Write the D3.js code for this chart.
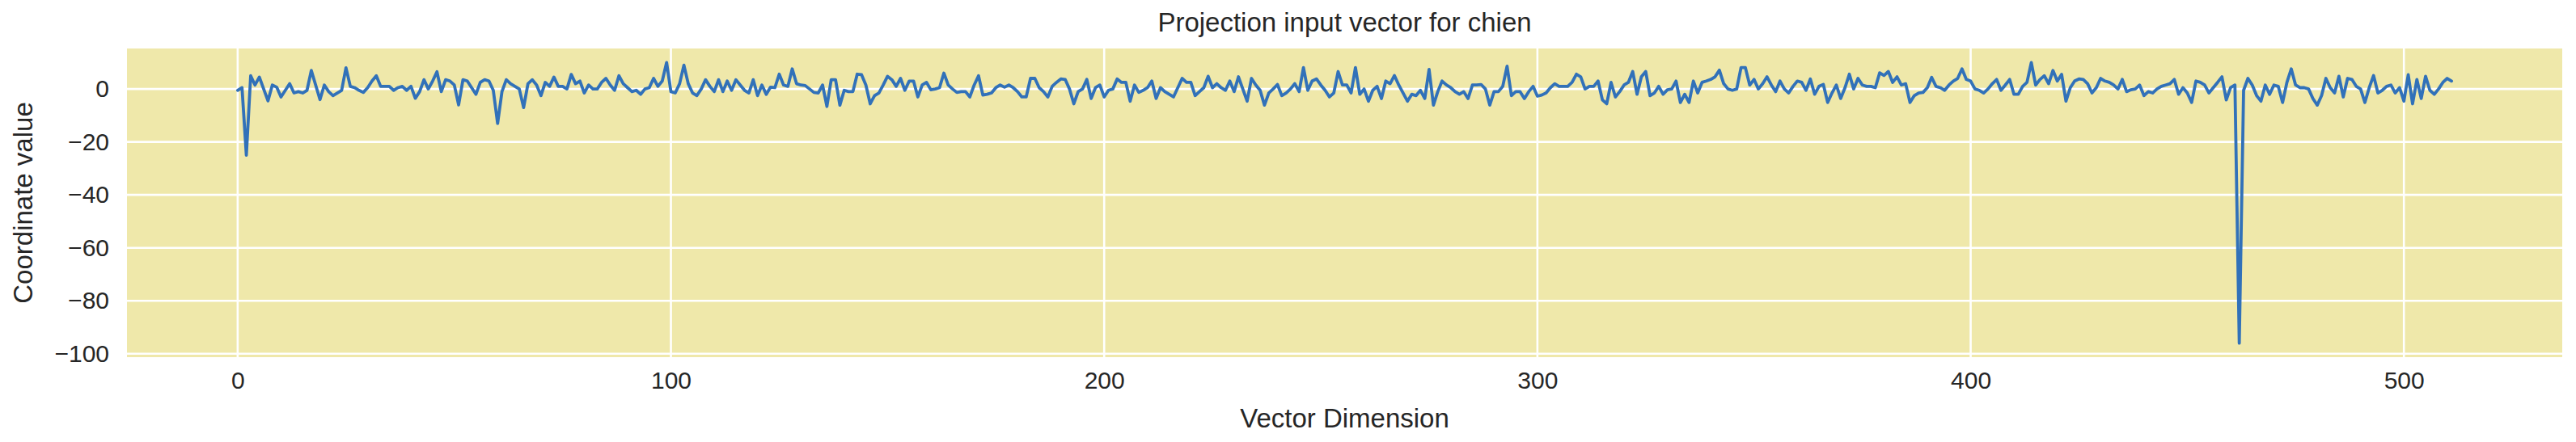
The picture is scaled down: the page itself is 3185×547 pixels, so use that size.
<!DOCTYPE html>
<html>
<head>
<meta charset="utf-8">
<script src="https://cdn.jsdelivr.net/npm/d3@7"></script>
<style>
  html, body { margin: 0; padding: 0; background: #ffffff; }
  svg { display: block; }
  text { font-family: "Liberation Sans", Arial, "DejaVu Sans", sans-serif; fill: #262626; }
</style>
</head>
<body>
<svg id="chart" width="3185" height="547"></svg>
<script>
const titleText = "Projection input vector for chien";
const xLabelText = "Vector Dimension";
const yLabelText = "Coordinate value";
const xTickValues = [0, 100, 200, 300, 400, 500];
const yTickValues = [0, -20, -40, -60, -80, -100];

// coordinate values, dimension 0..511
const values = [
  // 0-60
  -0.5, 0.5, -25, 5, 1.5, 4.5, 0, -4.5, 1.5, 0.7, -3, -0.5, 2, -1.5, -1, -1.5, -0.5, 7, 1.5, -4,
  1.5, -1, -2.5, -1.5, -0.5, 8, 1, 0.5, -0.5, -1.3, 0.5, 3, 5, 1, 1, 1, -0.5, 0.5, 1, -0.5,
  1, -3.5, -1, 3.5, 0, 3, 6.5, -1, 3.5, 3, 1.5, -6, 3.5, 3, 0.5, -2, 2.5, 3.5, 3, -0.5, -13,
  // 61-115
  -1, 3.5, 2, 1, 0, -7, 2, 3.5, 1.5, -2.5, 2.5, 1, 4.5, 1, 1, 0, 5.5, 2, 3, -1.5,
  1.5, 0, 0, 2.5, 4, 1.5, -0.5, 5, 2, 0.5, -1, -0.5, -2, 0, 0.5, 4, 1, 3, 10, -1,
  -1.5, 2, 9, 2, -1.5, -2.5, 0, 3.5, 1, -1, 3.5, -1, 3, -0.5, 3.5,
  // 116-173
  1.5, -0.5, -1.5, 3.5, -2.5, 1.5, -2, 0.7, 0.5, 5.6, 1.5, 1, 7.6, 2, 1.5, 1.3, 0, -1.3, -1.5, 1.5,
  -6.6, 3.5, 3.5, -6.1, -0.5, -1, -1, 5.6, 5.4, 1.5, -5.6, -2.5, -1.5, 1.5, 4.8, 3.5, 1, 4, -0.5, 3,
  3, -3, 1.5, 2.5, -0.3, 0, 0.5, 6, 1.5, 0, -1.3, -1, -1, -3, 1.5, 5, -2.3, -2,
  // 174-232
  -1.5, 0.5, 1.5, 0.7, 1.5, 0.5, -1, -3, -3, 4, 4, 0.5, -1, -3, 1, 2.5, 3.8, 3.6, 0, -5.6,
  -1, 0, 3.6, -3.6, 0.5, 1.5, -3, -0.5, 0, 3.8, 2.5, 2.5, -4.6, 1.5, -1.3, -0.5, 0.5, 3, -3.6, 0.5,
  -1, -2, -3, 0.5, 4, 2.5, 2.5, -2.5, -1, 0.5, 4.8, 0.5, 2, 0.5, -0.5, 3, -1, 4.6, 0,
  // 233-293
  -4.6, 4, 1.5, -0.5, -6.1, -1.5, 0, 1.7, -2.5, -1.5, 0, 2, -1, 8.1, -0.5, 3, 3.8, 1.5, -0.5, -3,
  -1.5, 6.6, 1.5, 1.5, -1.5, 8.1, -2, 0, -4.6, -0.5, 1, -3.6, 3, 2, 5.1, 1.5, -1.5, -4.6, -2, -2.5,
  -0.5, -3.6, 7.4, -6.1, -1, 3, 1.5, 0.5, -1, -2, -1, -3.6, 1.5, 1.5, 1.7, 0, -6.1, -1, -1, 1, 8.6,
  // 294-349
  -2.5, -1, -1, -3.6, -1, 1, -2.7, -2.3, -1.5, 0.5, 2, 1, 1, 1, 2.5, 5.6, 4.6, 0, 1, 1,
  3, -4.1, -5.6, 2.5, -3, -1, 1.5, 2.5, 6.6, -2, 4.6, 6.6, -2.5, -1.5, 1, -2, -0.3, 0, 3, -5.1,
  -2, -5.1, 3, -1.5, 2.5, 3, 3.6, 4.6, 7.1, 2, 0, -0.5, 0, 8.1, 8.1, 1.5,
  // 350-410
  3.6, 0, 2, 4.6, 1.5, -1, 3, 0, -1.5, 1, 3, 2.5, -0.5, 3.8, -2, 1, 1.7, -5.1, -1.5, 1.5,
  -3.6, 0.5, 5.6, 0, 4, 1.5, 1, 1, 0.5, 6.1, 5.1, 6.6, 2.5, 4.6, 1.5, 2, -5.1, -2.5, -1.5, -1.3,
  0.5, 4.4, 1, 0.5, -0.5, 1.5, 3, 4, 7.6, 3.6, 3, 0, -0.5, -1.5, 0, 2, 3.6, -0.5, 1.5, 3.6, -2,
  // 411-464
  -2, 1, 2.5, 10, 1.5, 3.6, 5, 2, 7, 3, 5.5, -4.6, 0.5, 3, 3.8, 3.6, 2, -1.5, 0.5, 4,
  3, 2.5, 1.5, 0, 3.6, -1, -0.3, 0, 1.5, -2.5, -1, -1.5, 0, 1, 1.5, 2, 3.6, -2, 0.5, -1.5,
  -5.1, 3, 2.5, 1.5, -1.5, 0.5, 2.5, 4.6, -4.1, 0.5, 1.5, -96, -0.5, 4,
  // 465-511
  1.5, -2.5, -4.6, 1.5, -2, 1.5, 1, -5.1, 2.5, 7.6, 1.5, 0.5, 0.5, 0, -3.6, -6.1, -2.5, 4, 0.5, -1.5,
  4.8, -3, 4, 3.6, 1, 0, -5.1, 0.5, 5.1, -1.5, -0.5, 1, 1.5, -1.5, 0.5, -4.6, 5.4, -5.6, 3.6, -3.6,
  4.8, -0.5, -2, 0, 2.5, 4, 3
];

const W = 3185, H = 547;
const margin = { left: 157, right: 17, top: 60, bottom: 105 };
const iw = W - margin.left - margin.right;
const ih = H - margin.top - margin.bottom;

const svg = d3.select("#chart");
const g = svg.append("g").attr("transform", `translate(${margin.left},${margin.top})`);

const n = values.length;
const xPad = (n - 1) * 0.05;
const x = d3.scaleLinear().domain([0 - xPad, (n - 1) + xPad]).range([0, iw]);
const [ymin, ymax] = d3.extent(values);
const yPad = (ymax - ymin) * 0.05;
const y = d3.scaleLinear().domain([ymin - yPad, ymax + yPad]).range([ih, 0]);

const fmt = d => (d < 0 ? "\u2212" + Math.abs(d) : String(d));

// background
g.append("rect").attr("width", iw).attr("height", ih).attr("fill", "#EFE8AA");

// grid
g.append("g").selectAll("line").data(xTickValues).join("line")
  .attr("x1", d => x(d)).attr("x2", d => x(d))
  .attr("y1", 0).attr("y2", ih)
  .attr("stroke", "#ffffff").attr("stroke-width", 2.6);
g.append("g").selectAll("line").data(yTickValues).join("line")
  .attr("x1", 0).attr("x2", iw)
  .attr("y1", d => y(d)).attr("y2", d => y(d))
  .attr("stroke", "#ffffff").attr("stroke-width", 2.6);

// axes (labels only)
const xAxis = g.append("g").attr("transform", `translate(0,${ih})`)
  .call(d3.axisBottom(x).tickValues(xTickValues).tickFormat(fmt).tickSize(0).tickPadding(18));
const yAxis = g.append("g")
  .call(d3.axisLeft(y).tickValues(yTickValues).tickFormat(fmt).tickSize(0).tickPadding(22));
[xAxis, yAxis].forEach(a => {
  a.select(".domain").remove();
  a.selectAll("text").style("font-size", "30px").attr("fill", "#262626")
    .style("font-family", "'Liberation Sans', Arial, sans-serif");
});

// line
const line = d3.line().x((d, i) => x(i)).y(d => y(d));
g.append("path").datum(values)
  .attr("d", line)
  .attr("fill", "none")
  .attr("stroke", "#3171B9")
  .attr("stroke-width", 3.8)
  .attr("stroke-linejoin", "round")
  .attr("stroke-linecap", "round");

// title
svg.append("text")
  .attr("x", margin.left + iw / 2).attr("y", margin.top - 21)
  .attr("text-anchor", "middle")
  .style("font-size", "33px")
  .text(titleText);

// x label
svg.append("text")
  .attr("x", margin.left + iw / 2).attr("y", 529)
  .attr("text-anchor", "middle")
  .style("font-size", "33px")
  .text(xLabelText);

// y label
svg.append("text")
  .attr("transform", `translate(40,${margin.top + ih / 2}) rotate(-90)`)
  .attr("text-anchor", "middle")
  .style("font-size", "33px")
  .text(yLabelText);
</script>
</body>
</html>
